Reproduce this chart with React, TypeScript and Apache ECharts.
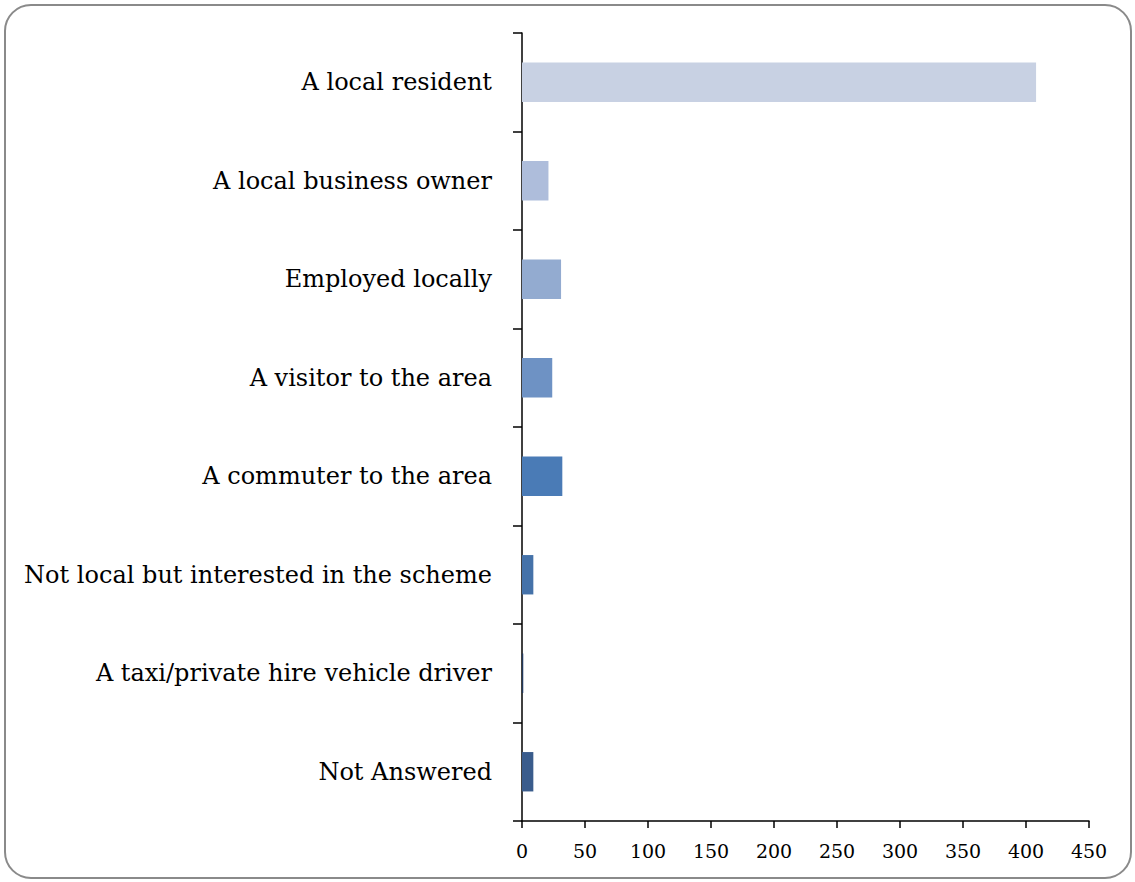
import React, { useEffect, useRef } from "react";
import * as echarts from "echarts";

const categories = [
  "A local resident",
  "A local business owner",
  "Employed locally",
  "A visitor to the area",
  "A commuter to the area",
  "Not local but interested in the scheme",
  "A taxi/private hire vehicle driver",
  "Not Answered",
];
const values = [408, 21, 31, 24, 32, 9, 1, 9];
const barColors = [
  "#C8D1E3",
  "#AEBDDB",
  "#93ABD0",
  "#6E92C4",
  "#4A7BB6",
  "#4572A9",
  "#22385C",
  "#3A5C8C",
];
const xTicks = { min: 0, max: 450, interval: 50 };

export default function App() {
  const ref = useRef<HTMLDivElement>(null);
  useEffect(() => {
    if (!ref.current) return;
    const chart = echarts.init(ref.current, undefined, { renderer: "svg" });
    const font = "'DejaVu Serif', 'Liberation Serif', serif";
    chart.setOption({
      animation: false,
      backgroundColor: "#ffffff",
      graphic: [
        {
          type: "rect",
          shape: { x: 5, y: 5, width: 1126, height: 873, r: 26 },
          style: { fill: "none", stroke: "#8a8a8a", lineWidth: 2 },
          silent: true,
        },
      ],
      grid: { left: 522, right: 46, top: 33, bottom: 61, containLabel: false },
      xAxis: {
        type: "value",
        min: xTicks.min,
        max: xTicks.max,
        interval: xTicks.interval,
        splitLine: { show: false },
        axisLine: { show: true, lineStyle: { color: "#000", width: 1.5 } },
        axisTick: { show: true, length: 7, lineStyle: { color: "#000", width: 1.5 } },
        axisLabel: { color: "#000", fontFamily: font, fontSize: 19, margin: 20 },
      },
      yAxis: {
        type: "category",
        inverse: true,
        data: categories,
        axisLine: { show: true, lineStyle: { color: "#000", width: 1.5 } },
        axisTick: { show: true, length: 9, alignWithLabel: false, lineStyle: { color: "#000", width: 1.5 } },
        axisLabel: { color: "#000", fontFamily: font, fontSize: 24, margin: 30 },
      },
      series: [
        {
          type: "bar",
          data: values.map((v, i) => ({ value: v, itemStyle: { color: barColors[i] } })),
          barWidth: "40%",
        },
      ],
    });
    return () => chart.dispose();
  }, []);
  return (
    <div
      ref={ref}
      style={{ position: "absolute", left: 0, top: 0, width: 1135, height: 882 }}
    />
  );
}
